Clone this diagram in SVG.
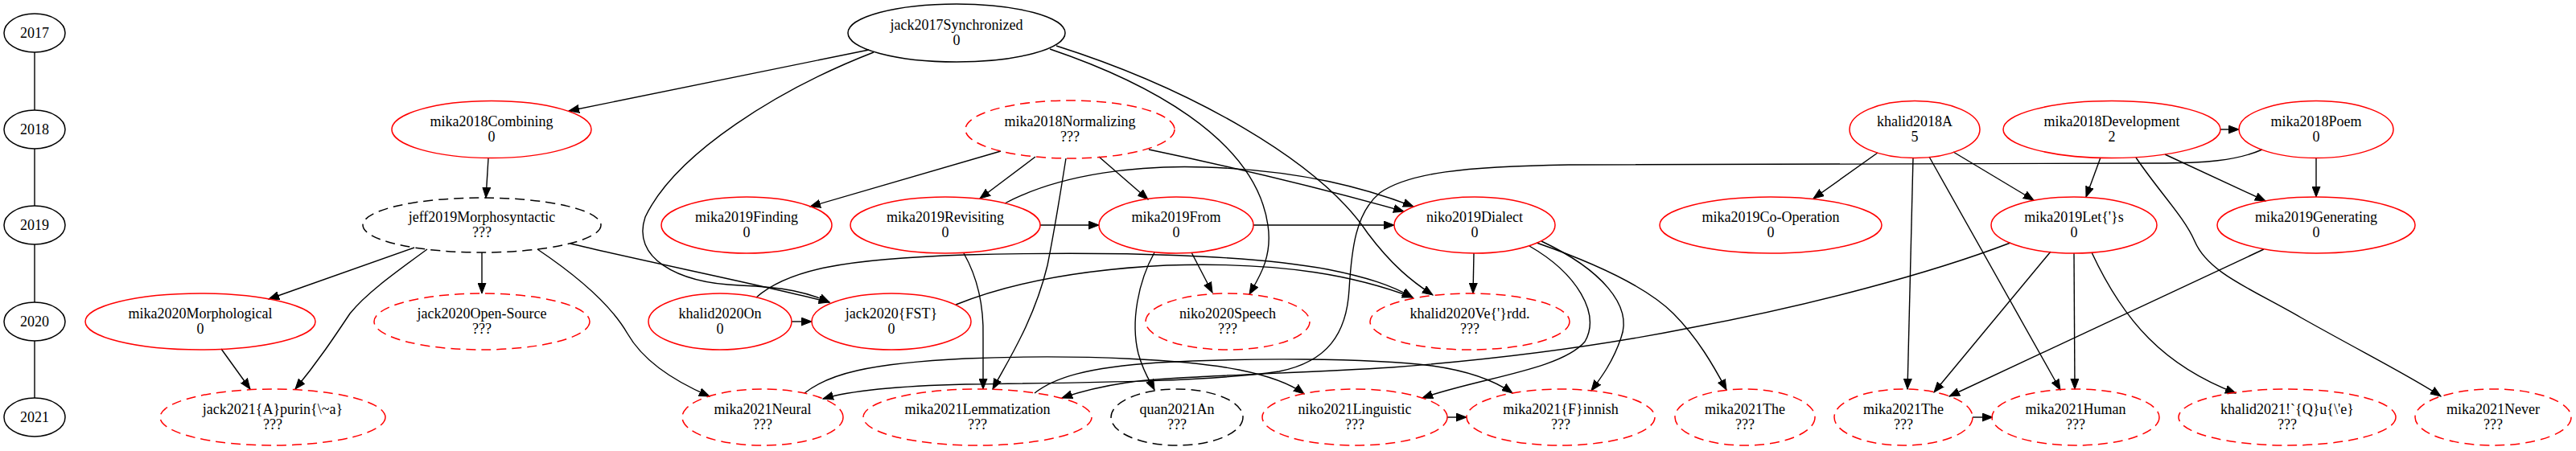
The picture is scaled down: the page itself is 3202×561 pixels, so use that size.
<svg xmlns="http://www.w3.org/2000/svg" width="3202" height="561" viewBox="0 0 3202 561">
<defs>
<marker id="ah" markerUnits="userSpaceOnUse" markerWidth="14" markerHeight="11" refX="13" refY="5" orient="auto" viewBox="0 0 14 10">
<path d="M0,0 L13,5 L0,10 z" fill="#000" stroke="#000" stroke-width="1"/>
</marker>
</defs>
<style>
.n ellipse{fill:none;stroke-width:1.5}
.r ellipse{stroke:#f00}
.b ellipse{stroke:#000}
.d ellipse{stroke-dasharray:12,7}
text{font-family:"Liberation Serif","Times New Roman",serif;font-size:18px;text-anchor:middle;fill:#000}
.e path{fill:none;stroke:#000;stroke-width:1.4;marker-end:url(#ah)}
.y line{stroke:#000;stroke-width:1.4}
</style>
<rect width="3202" height="561" fill="#fff"/>

<g id="years" class="y">
<line x1="43" y1="65" x2="43" y2="137"/>
<line x1="43" y1="185" x2="43" y2="256"/>
<line x1="43" y1="304" x2="43" y2="376"/>
<line x1="43" y1="424" x2="43" y2="495"/>
</g>
<g id="y2017" class="n b"><ellipse cx="43" cy="41" rx="38" ry="24"/><text x="43" y="47">2017</text></g>
<g id="y2018" class="n b"><ellipse cx="43" cy="161" rx="38" ry="24"/><text x="43" y="167">2018</text></g>
<g id="y2019" class="n b"><ellipse cx="43" cy="280" rx="38" ry="24"/><text x="43" y="286">2019</text></g>
<g id="y2020" class="n b"><ellipse cx="43" cy="400" rx="38" ry="24"/><text x="43" y="406">2020</text></g>
<g id="y2021" class="n b"><ellipse cx="43" cy="519" rx="38" ry="24"/><text x="43" y="525">2021</text></g>

<g id="connectors" class="e">
<path d="M1080,62 L707,138"/>
<path d="M1086,65 C970,110 840,190 802,270 C785,320 840,352 920,355 C975,357 1005,364 1031,376"/>
<path d="M1305,61 C1420,100 1560,170 1576,280 C1582,320 1565,345 1553,366"/>
<path d="M1313,57 C1480,110 1640,200 1700,290 C1730,330 1755,350 1781,367"/>
<path d="M607,197 L604,246"/>
<path d="M1244,188 L1007,257"/>
<path d="M1287,195 L1218,247"/>
<path d="M1366,195 L1427,248"/>
<path d="M1428,186 Q1600,222 1745,263"/>
<path d="M1249,253 C1320,215 1420,205 1500,208 C1620,212 1700,235 1757,257"/>
<path d="M1325,197 C1318,240 1312,280 1302,330 C1285,400 1252,450 1234,484"/>
<path d="M1198,315 C1215,345 1223,380 1222,420 L1222,484"/>
<path d="M1293,280 L1366,280"/>
<path d="M1558,280 L1733,280"/>
<path d="M1481,314 L1507,364"/>
<path d="M1435,314 C1415,350 1405,400 1415,440 C1422,465 1430,475 1435,485"/>
<path d="M515,308 L334,372"/>
<path d="M531,310 C490,340 455,365 435,390 C415,420 395,450 367,484"/>
<path d="M599,314 L599,365"/>
<path d="M668,310 C720,345 760,380 780,415 C800,450 840,475 882,493"/>
<path d="M709,303 C800,325 950,355 1031,376"/>
<path d="M275,434 L311,484"/>
<path d="M984,400 L1009,400"/>
<path d="M940,370 C980,335 1050,322 1200,317 C1400,312 1560,318 1650,335 C1700,345 1730,355 1756,370"/>
<path d="M1188,379 C1260,350 1350,335 1450,330 C1600,325 1690,345 1756,370"/>
<path d="M2812,186 C2780,200 2740,203 2680,203 L1950,205 C1820,207 1750,215 1715,240 C1685,265 1680,310 1677,360 C1674,415 1650,450 1590,462 C1500,475 1350,476 1200,478 C1120,480 1060,485 1023,496"/>
<path d="M2499,302 C2400,340 2250,380 2100,408 C1980,432 1860,447 1730,457 C1600,465 1450,468 1400,476 C1360,482 1340,488 1320,495"/>
<path d="M1000,489 C1030,465 1080,452 1200,446 C1350,440 1480,448 1540,460 C1580,468 1605,478 1621,490"/>
<path d="M1286,489 C1310,470 1350,457 1440,451 C1550,445 1700,445 1780,455 C1830,462 1860,475 1880,489"/>
<path d="M1799,519 L1823,519"/>
<path d="M1832,315 L1831,365"/>
<path d="M1901,306 C1960,340 1990,390 1970,425 C1940,460 1840,470 1768,495"/>
<path d="M1916,300 C1990,335 2030,380 2015,420 C2005,450 1990,470 1978,486"/>
<path d="M1910,302 C1990,330 2050,360 2080,390 C2110,420 2130,455 2146,485"/>
<path d="M2334,190 L2254,247"/>
<path d="M2428,189 L2528,249"/>
<path d="M2378,196 L2371,484"/>
<path d="M2398,195 L2561,485"/>
<path d="M2760,161 L2783,161"/>
<path d="M2611,196 L2593,245"/>
<path d="M2691,192 L2816,250"/>
<path d="M2655,196 C2685,240 2715,270 2728,300 C2745,340 2800,360 2860,395 C2940,440 3000,470 3034,493"/>
<path d="M2879,196 L2879,245"/>
<path d="M2549,313 L2404,488"/>
<path d="M2578,315 L2579,484"/>
<path d="M2600,314 C2640,400 2690,455 2779,489"/>
<path d="M2814,310 L2423,493"/>
<path d="M2452,519 L2477,519"/>
</g>

<g id="jack2017Synchronized" class="n b"><ellipse cx="1189" cy="41" rx="135" ry="36"/><text x="1189" y="37">jack2017Synchronized</text><text x="1189" y="56">0</text></g>
<g id="mika2018Combining" class="n r"><ellipse cx="611" cy="161" rx="124" ry="35.5"/><text x="611" y="157">mika2018Combining</text><text x="611" y="176">0</text></g>
<g id="mika2018Normalizing" class="n r d"><ellipse cx="1330" cy="161" rx="130" ry="36"/><text x="1330" y="157">mika2018Normalizing</text><text x="1330" y="176">???</text></g>
<g id="khalid2018A" class="n r"><ellipse cx="2380" cy="161" rx="81" ry="35.5"/><text x="2380" y="157">khalid2018A</text><text x="2380" y="176">5</text></g>
<g id="mika2018Development" class="n r"><ellipse cx="2625" cy="161" rx="135" ry="35.5"/><text x="2625" y="157">mika2018Development</text><text x="2625" y="176">2</text></g>
<g id="mika2018Poem" class="n r"><ellipse cx="2879" cy="161" rx="96" ry="35.5"/><text x="2879" y="157">mika2018Poem</text><text x="2879" y="176">0</text></g>

<g id="jeff2019Morphosyntactic" class="n b d"><ellipse cx="599" cy="280" rx="148" ry="34"/><text x="599" y="276">jeff2019Morphosyntactic</text><text x="599" y="295">???</text></g>
<g id="mika2019Finding" class="n r"><ellipse cx="928" cy="280" rx="106" ry="35"/><text x="928" y="276">mika2019Finding</text><text x="928" y="295">0</text></g>
<g id="mika2019Revisiting" class="n r"><ellipse cx="1175" cy="280" rx="118" ry="35"/><text x="1175" y="276">mika2019Revisiting</text><text x="1175" y="295">0</text></g>
<g id="mika2019From" class="n r"><ellipse cx="1462" cy="280" rx="96" ry="35"/><text x="1462" y="276">mika2019From</text><text x="1462" y="295">0</text></g>
<g id="niko2019Dialect" class="n r"><ellipse cx="1833" cy="280" rx="100" ry="35"/><text x="1833" y="276">niko2019Dialect</text><text x="1833" y="295">0</text></g>
<g id="mika2019Co-Operation" class="n r"><ellipse cx="2201" cy="280" rx="138" ry="35"/><text x="2201" y="276">mika2019Co-Operation</text><text x="2201" y="295">0</text></g>
<g id="mika2019Lets" class="n r"><ellipse cx="2578" cy="280" rx="103" ry="35"/><text x="2578" y="276">mika2019Let{'}s</text><text x="2578" y="295">0</text></g>
<g id="mika2019Generating" class="n r"><ellipse cx="2879" cy="280" rx="123" ry="35"/><text x="2879" y="276">mika2019Generating</text><text x="2879" y="295">0</text></g>

<g id="mika2020Morphological" class="n r"><ellipse cx="249" cy="400" rx="143" ry="35"/><text x="249" y="396">mika2020Morphological</text><text x="249" y="415">0</text></g>
<g id="jack2020Open-Source" class="n r d"><ellipse cx="599" cy="400" rx="134" ry="35"/><text x="599" y="396">jack2020Open-Source</text><text x="599" y="415">???</text></g>
<g id="khalid2020On" class="n r"><ellipse cx="895" cy="400" rx="89" ry="35"/><text x="895" y="396">khalid2020On</text><text x="895" y="415">0</text></g>
<g id="jack2020FST" class="n r"><ellipse cx="1108" cy="400" rx="99" ry="35"/><text x="1108" y="396">jack2020{FST}</text><text x="1108" y="415">0</text></g>
<g id="niko2020Speech" class="n r d"><ellipse cx="1526" cy="400" rx="102" ry="35"/><text x="1526" y="396">niko2020Speech</text><text x="1526" y="415">???</text></g>
<g id="khalid2020Verdd" class="n r d"><ellipse cx="1827" cy="400" rx="124" ry="35"/><text x="1827" y="396">khalid2020Ve{'}rdd.</text><text x="1827" y="415">???</text></g>

<g id="jack2021Apurina" class="n r d"><ellipse cx="339" cy="519" rx="140" ry="35"/><text x="339" y="515">jack2021{A}purin{\~a}</text><text x="339" y="534">???</text></g>
<g id="mika2021Neural" class="n r d"><ellipse cx="948" cy="519" rx="100" ry="35"/><text x="948" y="515">mika2021Neural</text><text x="948" y="534">???</text></g>
<g id="mika2021Lemmatization" class="n r d"><ellipse cx="1215" cy="519" rx="142" ry="35"/><text x="1215" y="515">mika2021Lemmatization</text><text x="1215" y="534">???</text></g>
<g id="quan2021An" class="n b d"><ellipse cx="1463" cy="519" rx="82" ry="35"/><text x="1463" y="515">quan2021An</text><text x="1463" y="534">???</text></g>
<g id="niko2021Linguistic" class="n r d"><ellipse cx="1684" cy="519" rx="115" ry="35"/><text x="1684" y="515">niko2021Linguistic</text><text x="1684" y="534">???</text></g>
<g id="mika2021Finnish" class="n r d"><ellipse cx="1940" cy="519" rx="117" ry="35"/><text x="1940" y="515">mika2021{F}innish</text><text x="1940" y="534">???</text></g>
<g id="mika2021The1" class="n r d"><ellipse cx="2169" cy="519" rx="87" ry="35"/><text x="2169" y="515">mika2021The</text><text x="2169" y="534">???</text></g>
<g id="mika2021The2" class="n r d"><ellipse cx="2366" cy="519" rx="86" ry="35"/><text x="2366" y="515">mika2021The</text><text x="2366" y="534">???</text></g>
<g id="mika2021Human" class="n r d"><ellipse cx="2580" cy="519" rx="104" ry="35"/><text x="2580" y="515">mika2021Human</text><text x="2580" y="534">???</text></g>
<g id="khalid2021Que" class="n r d"><ellipse cx="2843" cy="519" rx="135" ry="35"/><text x="2843" y="515">khalid2021!`{Q}u{\'e}</text><text x="2843" y="534">???</text></g>
<g id="mika2021Never" class="n r d"><ellipse cx="3099" cy="519" rx="97" ry="35"/><text x="3099" y="515">mika2021Never</text><text x="3099" y="534">???</text></g>
</svg>
